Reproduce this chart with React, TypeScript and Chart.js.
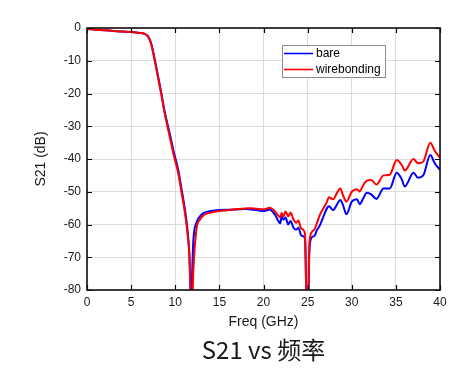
import React, { useEffect, useRef } from "react";
import { Chart, registerables } from "chart.js";

Chart.register(...registerables);

const chartTitle = "S21 vs 频率";
const xTitle = "Freq (GHz)";
const yTitle = "S21 (dB)";
const seriesNames = ["bare", "wirebonding"];
const seriesColors = ["#0000ff", "#ff0000"];

const freq = [
  0, 1, 2, 3, 4, 5, 6, 6.6, 7.0, 7.3, 7.6, 8.0, 8.4, 8.8, 9.4, 9.8, 10.35, 10.7, 11.1, 11.4,
  11.6, 11.8, 11.9, 12.05, 12.4, 12.8, 13.2, 13.8, 14.3, 15, 16,
  17, 18, 18.5, 19.2, 20, 20.7, 21.3, 21.9, 22.05, 22.25, 22.5, 22.8, 23.07, 23.4, 23.7, 23.95,
  24.3, 24.7, 24.9, 25.05, 25.2, 25.45, 25.8, 26.0, 26.4, 26.8, 27.2,
  27.4, 27.9, 28.3, 28.7, 29.0, 29.4, 30.0, 30.6, 30.9, 31.3, 31.7,
  32.2, 32.8, 33.6, 34.3, 35.1, 35.7, 36.0, 37.0, 37.5, 38.1, 38.9, 39.4, 40,
];

const bare = [
  -0.3, -0.5, -0.7, -0.9, -1.1, -1.2, -1.5, -1.9, -2.9, -5, -8.5, -14, -19.5, -25.5, -32.5,
  -37.5, -43.5, -49, -55.5, -62, -69, -85, -76, -65, -59.5, -57.5, -56.5, -56, -55.8, -55.6,
  -55.5,
  -55.4, -55.3, -55.4, -55.6, -55.9, -55.4, -57, -59.6, -57.5, -58.5, -57.9, -60, -58.9, -61,
  -61.6, -61, -63.4, -64.2, -85, -85, -68, -64, -63.4, -62, -60.2, -57.5, -55,
  -54.4, -55.6, -54, -52.5, -54, -56.9, -53, -52.3, -53.8, -52, -50.3,
  -50.8, -52.2, -49, -49, -44.2, -46.4, -48.4, -44.2, -45.7, -45, -38.8, -41.3, -43.3,
];

const wirebonding = [
  -0.3, -0.5, -0.7, -0.9, -1.1, -1.2, -1.5, -1.9, -2.9, -5.2, -9, -14.5, -20, -26, -33.5,
  -38.5, -44.5, -50, -56.5, -63, -69.5, -85, -85, -74, -61.5, -58.5, -57.2, -56.5, -56.2, -55.9,
  -55.6,
  -55.3, -55.1, -55, -55.2, -55.4, -54.9, -56, -57.8, -56.5, -57.5, -56, -57.5, -56.4, -58.5,
  -59.5, -58.8, -61.3, -62.7, -85, -85, -66, -62.4, -61.4, -60, -57, -55, -53,
  -51.7, -52.3, -50.5, -49, -51, -53, -50, -49.2, -49.9, -48, -46.6,
  -46.4, -47.8, -45, -44.8, -40.3, -42, -43.5, -40, -41.3, -40.8, -35, -37.5, -39.6,
];

const xMin = 0;
const xMax = 40;
const xStep = 5;
const yMin = -80;
const yMax = 0;
const yStep = 10;

const FONT = "'Liberation Sans', Arial, sans-serif";

const framePlugin = {
  id: "frameAndLegend",
  afterDatasetsDraw(chart: any) {
    const { ctx, chartArea: a, scales } = chart;
    ctx.save();
    ctx.strokeStyle = "#000";
    ctx.lineWidth = 1.2;
    const tl = 5;
    const xs = scales.x;
    const ys = scales.y;
    xs.ticks.forEach((_t: any, i: number) => {
      const px = Math.round(xs.getPixelForTick(i)) + 0.5;
      ctx.beginPath();
      ctx.moveTo(px, a.bottom);
      ctx.lineTo(px, a.bottom - tl);
      ctx.moveTo(px, a.top);
      ctx.lineTo(px, a.top + tl);
      ctx.stroke();
    });
    ys.ticks.forEach((_t: any, i: number) => {
      const py = Math.round(ys.getPixelForTick(i)) + 0.5;
      ctx.beginPath();
      ctx.moveTo(a.left, py);
      ctx.lineTo(a.left + tl, py);
      ctx.moveTo(a.right, py);
      ctx.lineTo(a.right - tl, py);
      ctx.stroke();
    });
    ctx.lineWidth = 1.6;
    ctx.strokeStyle = "#111";
    ctx.strokeRect(a.left, a.top, a.right - a.left, a.bottom - a.top);

    const lx = a.left + 195;
    const ly = a.top + 17;
    const lw = 103;
    const lh = 32;
    ctx.fillStyle = "#fff";
    ctx.fillRect(lx, ly, lw, lh);
    ctx.strokeStyle = "#8c8c8c";
    ctx.lineWidth = 1;
    ctx.strokeRect(lx + 0.5, ly + 0.5, lw, lh);
    ctx.font = `12px ${FONT}`;
    ctx.textBaseline = "middle";
    ctx.textAlign = "left";
    seriesNames.forEach((name, i) => {
      const yy = ly + 8.5 + i * 16;
      ctx.strokeStyle = seriesColors[i];
      ctx.lineWidth = 1.6;
      ctx.beginPath();
      ctx.moveTo(lx + 2, yy);
      ctx.lineTo(lx + 31, yy);
      ctx.stroke();
      ctx.fillStyle = "#000";
      ctx.fillText(name, lx + 34, yy + 0.5);
    });
    ctx.restore();
  },
};

export default function App() {
  const ref = useRef<HTMLCanvasElement>(null);

  useEffect(() => {
    if (!ref.current) return;
    const mk = (ys: number[]) => freq.map((f, i) => ({ x: f, y: ys[i] }));
    const chart = new Chart(ref.current, {
      type: "line",
      data: {
        datasets: [
          {
            label: seriesNames[0],
            data: mk(bare),
            borderColor: seriesColors[0],
            borderWidth: 2,
            pointRadius: 0,
            cubicInterpolationMode: "monotone",
            order: 1,
          },
          {
            label: seriesNames[1],
            data: mk(wirebonding),
            borderColor: seriesColors[1],
            borderWidth: 2,
            pointRadius: 0,
            cubicInterpolationMode: "monotone",
            order: 0,
          },
        ],
      },
      options: {
        animation: false,
        responsive: false,
        devicePixelRatio: 1,
        layout: { padding: { top: 28, right: 14, left: 0, bottom: 0 } },
        font: { family: FONT },
        plugins: {
          legend: { display: false },
          tooltip: { enabled: false },
          title: {
            display: true,
            position: "bottom",
            fullSize: false,
            text: chartTitle,
            color: "#1a1a1a",
            font: { family: "'Noto Sans CJK SC', sans-serif", size: 24, weight: "normal" },
            padding: { top: 0, bottom: 6.6 },
          },
        },
        scales: {
          x: {
            type: "linear",
            min: xMin,
            max: xMax,
            border: { display: false },
            grid: { color: "#dcdcdc", lineWidth: 1, drawTicks: false },
            ticks: {
              stepSize: xStep,
              padding: 5,
              color: "#1a1a1a",
              font: { family: FONT, size: 12 },
              maxRotation: 0,
            },
            title: {
              display: true,
              text: xTitle,
              color: "#1a1a1a",
              font: { family: FONT, size: 14 },
              padding: { top: 0, bottom: 5.2 },
            },
            afterFit: (s: any) => {
              s.height = 45.6;
            },
          },
          y: {
            type: "linear",
            min: yMin,
            max: yMax,
            border: { display: false },
            grid: { color: "#dcdcdc", lineWidth: 1, drawTicks: false },
            ticks: {
              stepSize: yStep,
              padding: 6,
              color: "#1a1a1a",
              font: { family: FONT, size: 12 },
            },
            title: {
              display: true,
              text: yTitle,
              color: "#1a1a1a",
              font: { family: FONT, size: 14 },
              padding: { top: 32.6, bottom: 0 },
            },
            afterFit: (s: any) => {
              s.width = 87;
            },
          },
        },
      },
      plugins: [framePlugin],
    } as any);
    return () => chart.destroy();
  }, []);

  return (
    <div style={{ position: "absolute", left: 0, top: 0, width: 454, height: 371, background: "#fff" }}>
      <canvas ref={ref} width={454} height={371} style={{ width: 454, height: 371, display: "block" }} />
    </div>
  );
}
